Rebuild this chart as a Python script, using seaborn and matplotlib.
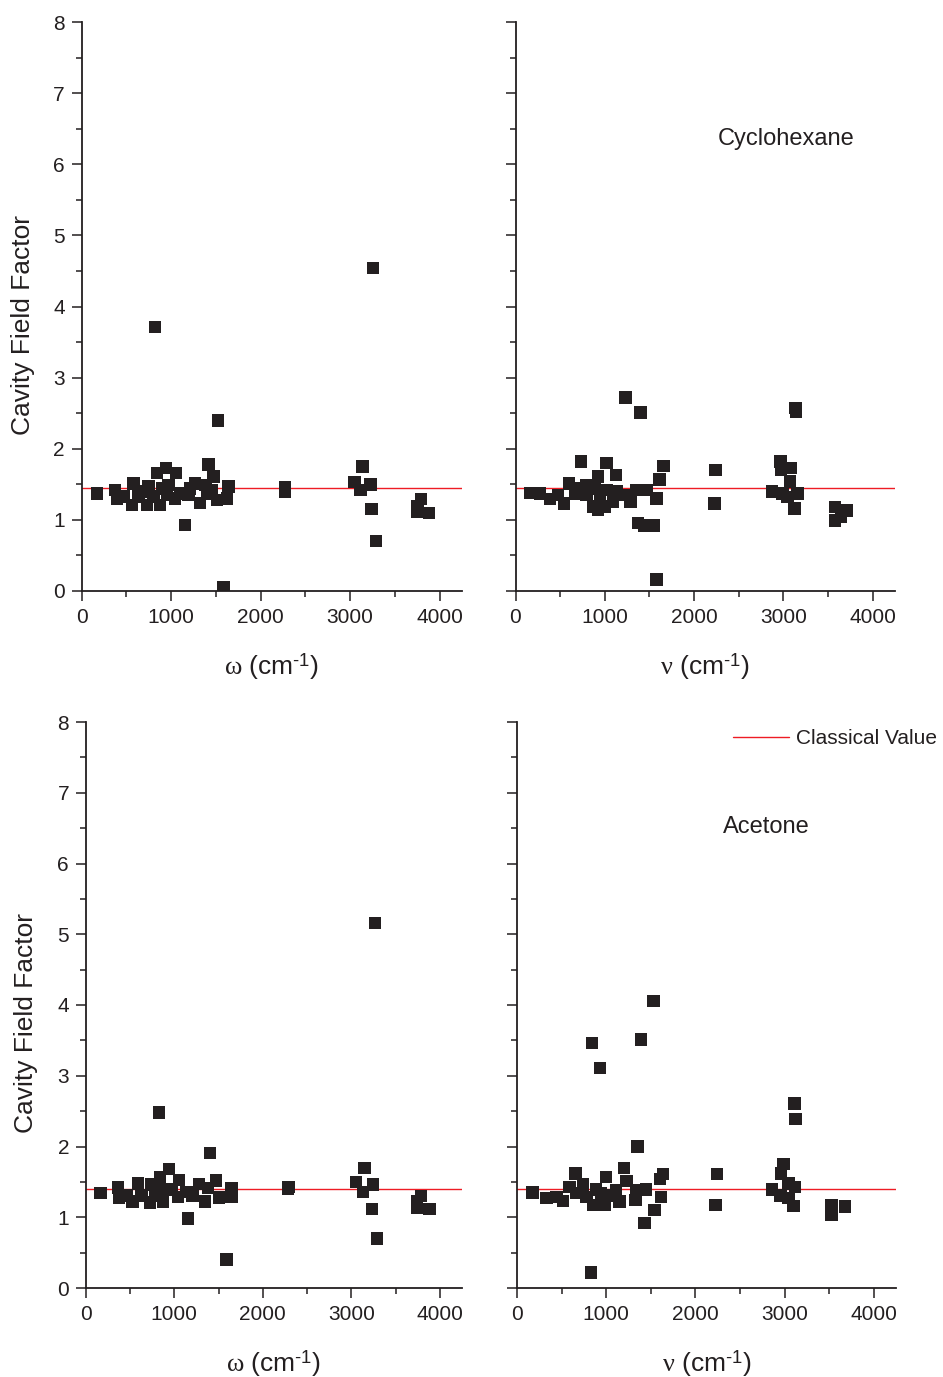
import matplotlib
matplotlib.use("Agg")
import matplotlib.pyplot as plt
from matplotlib.lines import Line2D
from matplotlib.ticker import MultipleLocator
import seaborn as sns
import pandas as pd

# Cyclohexane, harmonic frequencies omega (cm^-1) and cavity field factor
cyc_omega_x = [169, 374, 393, 467, 561, 579, 635, 673, 729, 747, 803, 822, 841, 878, 897,
               945, 953, 971, 1046, 1057, 1102, 1158, 1195, 1214, 1270, 1326, 1382, 1401,
               1419, 1457, 1475, 1513, 1524, 1587, 1625, 1643, 2270, 2275, 3050, 3118, 3136,
               3230, 3237, 3256, 3289, 3752, 3752, 3790, 3883]
cyc_omega_y = [1.37, 1.42, 1.29, 1.33, 1.21, 1.51, 1.33, 1.40, 1.21, 1.47, 1.33, 3.71, 1.66,
               1.21, 1.44, 1.73, 1.35, 1.49, 1.30, 1.66, 1.37, 0.93, 1.35, 1.44, 1.51, 1.24,
               1.49, 1.37, 1.78, 1.42, 1.61, 1.28, 2.40, 0.06, 1.30, 1.47, 1.46, 1.40, 1.53,
               1.42, 1.75, 1.50, 1.15, 4.54, 0.70, 1.12, 1.19, 1.29, 1.10]

# Cyclohexane, fundamental frequencies nu (cm^-1)
cyc_nu_x = [170, 274, 385, 478, 542, 601, 665, 732, 739, 795, 795, 869, 888, 925, 925, 944,
            1000, 1019, 1019, 1093, 1123, 1130, 1223, 1231, 1287, 1354, 1372, 1399, 1447,
            1466, 1547, 1578, 1578, 1615, 1659, 2229, 2240, 2874, 2966, 2974, 2992, 3048,
            3075, 3086, 3123, 3134, 3140, 3159, 3581, 3581, 3644, 3707]
cyc_nu_y = [1.38, 1.37, 1.29, 1.35, 1.23, 1.51, 1.37, 1.82, 1.44, 1.35, 1.49, 1.19, 1.44,
            1.61, 1.14, 1.33, 1.19, 1.80, 1.42, 1.26, 1.63, 1.40, 1.35, 2.72, 1.26, 1.42,
            0.96, 2.51, 0.92, 1.42, 0.92, 0.16, 1.30, 1.57, 1.76, 1.23, 1.70, 1.40, 1.82,
            1.70, 1.37, 1.32, 1.54, 1.73, 1.16, 2.57, 2.52, 1.37, 0.99, 1.18, 1.05, 1.13]

# Acetone, harmonic frequencies omega (cm^-1)
ace_omega_x = [169, 368, 379, 462, 530, 593, 631, 725, 744, 781, 826, 838, 857, 875, 943,
               969, 1044, 1055, 1139, 1157, 1206, 1281, 1345, 1382, 1401, 1469, 1506, 1589,
               1646, 1646, 2285, 2292, 3055, 3130, 3149, 3235, 3242, 3265, 3292, 3743, 3743,
               3788, 3882]
ace_omega_y = [1.34, 1.42, 1.28, 1.31, 1.22, 1.48, 1.31, 1.21, 1.46, 1.31, 2.48, 1.56, 1.39,
               1.22, 1.68, 1.39, 1.29, 1.53, 1.36, 0.98, 1.31, 1.47, 1.22, 1.41, 1.91, 1.52,
               1.28, 0.40, 1.29, 1.41, 1.40, 1.43, 1.50, 1.36, 1.70, 1.12, 1.46, 5.16, 0.70,
               1.13, 1.22, 1.30, 1.12]

# Acetone, fundamental frequencies nu (cm^-1)
ace_nu_x = [175, 331, 443, 517, 591, 654, 666, 740, 777, 833, 840, 851, 889, 929, 945, 981,
            1000, 1037, 1112, 1149, 1197, 1226, 1327, 1334, 1353, 1390, 1430, 1446, 1531,
            1542, 1603, 1617, 1640, 2226, 2244, 2859, 2953, 2958, 2988, 3046, 3046, 3102,
            3113, 3120, 3121, 3529, 3529, 3678]
ace_nu_y = [1.35, 1.27, 1.29, 1.23, 1.43, 1.62, 1.34, 1.46, 1.29, 0.22, 3.46, 1.17, 1.39,
            3.11, 1.34, 1.17, 1.57, 1.31, 1.38, 1.22, 1.70, 1.51, 1.24, 1.38, 2.00, 3.51,
            0.92, 1.39, 4.06, 1.10, 1.54, 1.29, 1.61, 1.17, 1.61, 1.39, 1.31, 1.62, 1.75,
            1.27, 1.48, 1.16, 2.61, 1.43, 2.39, 1.03, 1.17, 1.15]

# Classical cavity field factor for each solvent
classical_value = {"Cyclohexane": 1.445, "Acetone": 1.405}

y_label = "Cavity Field Factor"
omega_label = r"$\omega$ (cm$^{\text{-1}}$)"
nu_label = r"$\nu$ (cm$^{\text{-1}}$)"
legend_label = "Classical Value"

sns.set_theme(style="ticks")
plt.rcParams["font.family"] = ["Liberation Sans", "DejaVu Sans"]
plt.rcParams["mathtext.fontset"] = "custom"
plt.rcParams["mathtext.rm"] = "Liberation Sans"
plt.rcParams["mathtext.it"] = "Liberation Serif"
plt.rcParams["mathtext.bf"] = "Liberation Sans:bold"

fig = plt.figure(figsize=(9.43, 13.77), dpi=100)
W, H = 943.0, 1377.0


def make_axes(x0, x1, y_top, y_bot):
    return fig.add_axes([x0 / W, 1 - y_bot / H, (x1 - x0) / W, (y_bot - y_top) / H])


panels = [
    (make_axes(81.6, 462, 22, 591), cyc_omega_x, cyc_omega_y, "Cyclohexane", omega_label, -0.122),
    (make_axes(515.5, 895, 22, 591), cyc_nu_x, cyc_nu_y, "Cyclohexane", nu_label, None),
    (make_axes(85.7, 462, 722, 1288), ace_omega_x, ace_omega_y, "Acetone", omega_label, -0.127),
    (make_axes(517, 896, 722, 1288), ace_nu_x, ace_nu_y, "Acetone", nu_label, None),
]

ink = "#231f20"
red = "#ee1c24"

for ax, xs, ys, solvent, xlabel, ylab_x in panels:
    df = pd.DataFrame({"freq": xs, "factor": ys})
    ax.axhline(classical_value[solvent], color=red, lw=1.0, zorder=1)
    sns.scatterplot(data=df, x="freq", y="factor", ax=ax, marker="s", s=80,
                    color=ink, edgecolor="none", linewidth=0, zorder=3)
    ax.set_xlim(0, 4250)
    ax.set_ylim(0, 8)
    ax.xaxis.set_major_locator(MultipleLocator(1000))
    ax.xaxis.set_minor_locator(MultipleLocator(500))
    ax.yaxis.set_major_locator(MultipleLocator(1))
    ax.yaxis.set_minor_locator(MultipleLocator(0.5))
    ax.tick_params(which="major", direction="out", length=7, width=1.1,
                   labelsize=15, color=ink, labelcolor=ink, pad=5)
    ax.tick_params(which="minor", direction="out", length=4, width=1.1, color=ink)
    for side in ("top", "right"):
        ax.spines[side].set_visible(False)
    for side in ("left", "bottom"):
        ax.spines[side].set_linewidth(1.3)
        ax.spines[side].set_color(ink)
    ax.set_xlabel(xlabel, fontsize=19, color=ink, labelpad=18)
    if ylab_x is not None:
        ax.set_ylabel(y_label, fontsize=19, color=ink)
        ax.yaxis.set_label_coords(ylab_x, 0.468)
    else:
        ax.set_ylabel("")
        ax.tick_params(axis="y", which="both", labelleft=False)

panels[1][0].text(3034, 6.35, "Cyclohexane", ha="center", va="center",
                  fontsize=17, color=ink)
panels[3][0].text(2798, 6.51, "Acetone", ha="center", va="center",
                  fontsize=17, color=ink)

fig.legend(handles=[Line2D([], [], color=red, lw=1.0)], labels=[legend_label],
           loc="center left", bbox_to_anchor=(733 / W, 1 - 739 / H), frameon=False,
           fontsize=15, handlelength=2.7, handletextpad=0.3, borderpad=0,
           borderaxespad=0, labelcolor=ink)

fig.savefig("out.png", dpi=100, facecolor="white")
